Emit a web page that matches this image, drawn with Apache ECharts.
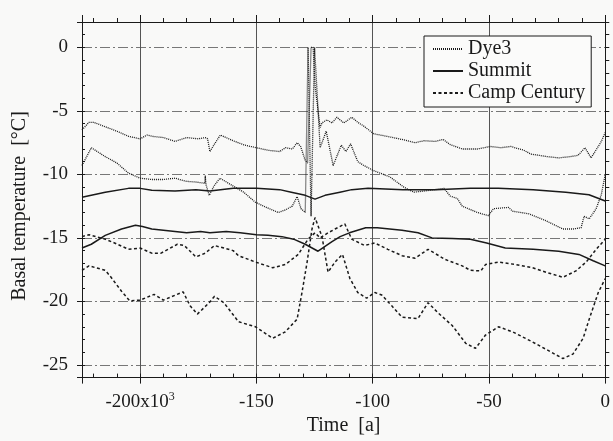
<!DOCTYPE html>
<html>
<head>
<meta charset="utf-8">
<script src="https://cdn.jsdelivr.net/npm/echarts@6/dist/echarts.min.js"></script>
<style>
  html, body { margin: 0; padding: 0; background: #f9f9f8; }
  #main { width: 613px; height: 441px; }
</style>
</head>
<body>
<div id="main"></div>
<script>
// time in 10^3 years, basal temperature in °C
var dye3Upper = [[-225,-6.5],[-222,-5.9],[-220,-5.9],[-215,-6.25],[-210,-6.6],[-205,-7.0],[-200,-7.2],[-197,-6.9],[-195,-7.0],[-190,-7.1],[-185,-7.4],[-180,-7.1],[-175,-7.2],[-172,-7.1],[-171,-7.2],[-170,-8.2],[-168,-7.6],[-165.5,-6.9],[-160,-7.35],[-155,-7.7],[-150,-7.9],[-145,-8.1],[-140,-8.2],[-137.5,-7.9],[-134.5,-8.0],[-132.5,-7.5],[-131,-7.8],[-129,-8.9],[-128,-9.1],[-126.5,0],[-125.6,0],[-124.8,-3],[-122.6,-6.3],[-121.8,-5.95],[-119.7,-5.7],[-117.5,-5.95],[-115.4,-5.5],[-112.4,-5.95],[-109,-5.5],[-106.4,-5.9],[-103.8,-6.2],[-99.6,-6.8],[-93.9,-7.0],[-87.4,-7.25],[-81.8,-7.5],[-77.9,-7.35],[-73.2,-7.4],[-69.7,-7.25],[-66.7,-7.65],[-61.5,-8.0],[-55,-8.0],[-49.4,-7.8],[-45,-7.9],[-40.7,-7.8],[-35,-8.1],[-32,-8.4],[-25,-8.6],[-20,-8.7],[-15,-8.6],[-11.7,-8.5],[-8.7,-7.9],[-6.1,-8.7],[-3,-7.8],[-1.7,-7.4],[0,-6.7]];
var dye3Lower = [[-225,-9.3],[-221,-7.9],[-215,-8.6],[-210,-9.1],[-205,-9.9],[-200,-10.3],[-195,-10.4],[-190,-10.4],[-185,-10.3],[-180,-10.55],[-176,-10.6],[-172.2,-10.7],[-172,-10.1],[-171.7,-10.8],[-170.3,-11.65],[-168.2,-10.9],[-165.7,-10.3],[-160.6,-10.85],[-155.5,-11.4],[-150.4,-12.2],[-145.7,-12.6],[-140.6,-13.0],[-137.6,-12.8],[-134.6,-12.5],[-132.5,-11.75],[-130.8,-12.7],[-129,-13.0],[-128.4,-13.1],[-127.8,0],[-127.2,0],[-126.5,-13.3],[-126.0,-13.3],[-125,0],[-124.6,0],[-122.6,-7.9],[-120,-6.6],[-117,-9.3],[-113.5,-7.7],[-111.5,-8.2],[-109.5,-7.6],[-106.4,-9.0],[-103.8,-9.3],[-99.6,-9.7],[-92.6,-10.2],[-86.6,-11.0],[-82.3,-11.4],[-75.3,-11.25],[-69.3,-11.1],[-66.7,-11.7],[-63.6,-11.9],[-61.5,-12.5],[-55,-13.0],[-50.2,-13.25],[-48.1,-12.7],[-41.6,-12.6],[-39.8,-12.9],[-32.9,-13.1],[-25.5,-13.65],[-18.2,-14.3],[-13.9,-14.3],[-10.4,-14.2],[-9.1,-13.3],[-6.9,-13.5],[-3.9,-12.7],[-1.7,-11.6],[0,-10.0]];
var summitUpper = [[-225,-11.8],[-215,-11.4],[-205,-11.1],[-200,-11.1],[-195,-11.25],[-185,-11.3],[-176,-11.2],[-170,-11.3],[-160,-11.1],[-150,-11.1],[-140,-11.2],[-135,-11.4],[-129,-11.65],[-124.8,-11.95],[-120.5,-11.65],[-114.1,-11.4],[-109,-11.2],[-102,-11.1],[-87,-11.2],[-73,-11.2],[-58,-11.1],[-46,-11.1],[-31,-11.2],[-17,-11.4],[-7,-11.6],[0,-12.1]];
var summitLower = [[-225,-15.8],[-221,-15.5],[-215,-14.8],[-208,-14.3],[-202,-14.0],[-199,-14.1],[-195,-14.3],[-185,-14.5],[-180,-14.6],[-174,-14.5],[-170,-14.6],[-163,-14.5],[-157,-14.6],[-150,-14.75],[-145,-14.8],[-139,-14.9],[-134,-15.1],[-129,-15.5],[-123.5,-16.05],[-117.5,-15.3],[-114,-14.9],[-110,-14.6],[-103,-14.2],[-98,-14.2],[-87.4,-14.4],[-80.5,-14.6],[-74.5,-15.0],[-65.8,-15.05],[-58,-15.1],[-51,-15.4],[-43,-15.8],[-31,-15.9],[-20,-16.05],[-11.3,-16.3],[-5.2,-16.8],[0,-17.2]];
var campUpper = [[-225,-14.9],[-222,-14.75],[-215,-15.1],[-211,-15.4],[-205,-15.9],[-200,-15.8],[-195,-16.2],[-191,-16.2],[-184,-15.5],[-181,-15.6],[-176,-16.5],[-172,-16.2],[-168,-15.6],[-164,-15.8],[-160,-16.0],[-157.7,-16.4],[-150.4,-16.9],[-143,-17.35],[-137.6,-17.1],[-132,-16.3],[-127.8,-15.1],[-124.8,-14.6],[-122.6,-15.0],[-119.2,-14.6],[-116.2,-14.3],[-112,-13.9],[-109,-15.1],[-103.5,-15.6],[-99.1,-15.4],[-93.5,-15.9],[-87.4,-16.4],[-81.8,-16.6],[-76.2,-15.9],[-68.8,-16.7],[-61.5,-17.2],[-58,-17.55],[-53.5,-17.6],[-51.5,-17.1],[-45.9,-16.9],[-38.5,-17.1],[-31.2,-17.35],[-25.5,-17.7],[-18.2,-18.1],[-12.6,-17.6],[-8.2,-16.9],[-3.9,-15.9],[0,-15.1]];
var campLower = [[-225,-17.55],[-222,-17.2],[-215,-17.55],[-212.5,-18.1],[-208,-19.2],[-204.5,-19.95],[-200,-19.9],[-194,-19.45],[-190,-19.9],[-181.5,-19.25],[-178.5,-20.35],[-175.4,-21.0],[-170.3,-20.1],[-168,-19.6],[-164,-20.1],[-157.7,-21.6],[-150.4,-22.0],[-143,-22.9],[-137.6,-22.4],[-132.5,-21.4],[-130.4,-19.3],[-128.2,-16.9],[-126.1,-14.3],[-124.8,-13.4],[-121.8,-14.9],[-119.2,-17.7],[-116.2,-16.9],[-113,-16.3],[-109.8,-18.2],[-106.4,-19.3],[-102.6,-19.75],[-99.1,-19.3],[-96.1,-19.5],[-91.8,-20.35],[-87.4,-21.25],[-80.5,-21.35],[-76.2,-20.1],[-71.9,-20.9],[-65.8,-21.9],[-60,-23.3],[-55.8,-23.7],[-51.5,-22.65],[-45.9,-22.0],[-39.8,-22.4],[-31.2,-23.2],[-24.2,-23.9],[-18.2,-24.5],[-13.9,-24.15],[-9.5,-22.9],[-6.9,-21.4],[-3,-19.3],[0,-18.2]];

var legendNames = ['Dye3', 'Summit', 'Camp Century'];

var font = '"Liberation Serif", "DejaVu Serif", serif';
var ink = '#1a1a1a';

var chart = echarts.init(document.getElementById('main'));

// axis helper, same range for every copy of the axis
function xAx(pos, step, tickLen, inside, extra) {
    return Object.assign({
        type: 'value', position: pos, min: -225, max: 0,
        minInterval: step, maxInterval: step, splitNumber: Math.round(225 / step),
        axisLine: { show: true, onZero: false, lineStyle: { color: ink, width: 1 } },
        axisTick: { show: true, inside: inside, length: tickLen, lineStyle: { color: ink } },
        axisLabel: { show: false },
        splitLine: { show: false }
    }, extra || {});
}
function yAx(pos, step, tickLen, inside, extra) {
    return Object.assign({
        type: 'value', position: pos, min: -26, max: 2,
        minInterval: step, maxInterval: step, splitNumber: Math.round(28 / step),
        axisLine: { show: true, onZero: false, lineStyle: { color: ink, width: 1 } },
        axisTick: { show: true, inside: inside, length: tickLen, lineStyle: { color: ink } },
        axisLabel: { show: false },
        splitLine: { show: false }
    }, extra || {});
}

function mkLine(name, data, type, width) {
    return {
        name: name, type: 'line', data: data, symbol: 'none',
        xAxisIndex: 0, yAxisIndex: 0, animation: false,
        lineStyle: { color: ink, width: width, type: type },
        itemStyle: { color: ink }
    };
}

var option = {
    backgroundColor: '#f9f9f8',
    animation: false,
    textStyle: { fontFamily: font },
    grid: { left: 82, right: 6, top: 22, bottom: 56, containLabel: false },
    legend: {
        data: legendNames,
        orient: 'vertical',
        left: 424, top: 36,
        padding: [3, 6, 4, 8],
        itemGap: 2,
        itemWidth: 30, itemHeight: 12,
        borderColor: ink, borderWidth: 1,
        backgroundColor: '#fbfbfa',
        itemStyle: { opacity: 0 },
        textStyle: { fontFamily: font, fontSize: 20, color: ink }
    },
    xAxis: [
        xAx('bottom', 10, 4, true, {
            name: 'Time  [a]', nameLocation: 'middle', nameGap: 37,
            nameTextStyle: { fontFamily: font, fontSize: 20, color: ink },
            axisLabel: {
                show: true, margin: 13, fontFamily: font, fontSize: 19, color: ink,
                formatter: function (v) {
                    if (v % 50 !== 0) return '';
                    if (v === -200) return '{a|-200x10}{s|3}';
                    return '{a|' + v + '}';
                },
                rich: {
                    a: { fontFamily: font, fontSize: 19, color: ink, lineHeight: 22 },
                    s: { fontFamily: font, fontSize: 12, color: ink, lineHeight: 10, verticalAlign: 'top' }
                }
            }
        }),
        xAx('bottom', 50, 6, false, {
            splitLine: { show: true, lineStyle: { color: '#555', width: 1 } }
        }),
        xAx('top', 10, 4, false),
        xAx('top', 50, 7, false)
    ],
    yAxis: [
        yAx('left', 1, 3, true, {
            axisLabel: {
                show: true, margin: 14, fontFamily: font, fontSize: 19, color: ink,
                formatter: function (v) { return v % 5 === 0 ? String(v) : ''; }
            }
        }),
        yAx('left', 5, 5, false, {
            splitLine: { show: true, lineStyle: { color: '#777', width: 1, type: [10, 3, 2, 3] } }
        }),
        yAx('right', 1, 4, false)
    ],
    graphic: [{
        type: 'text', x: 20, y: 206, rotation: Math.PI / 2,
        style: {
            text: 'Basal temperature  [°C]', font: '20px ' + font, fill: ink,
            textAlign: 'center', textVerticalAlign: 'middle'
        }
    }],
    series: [
        mkLine('Dye3', dye3Upper, [1, 1], 1.3),
        mkLine('Dye3', dye3Lower, [1, 1], 1.3),
        mkLine('Summit', summitUpper, 'solid', 1.5),
        mkLine('Summit', summitLower, 'solid', 1.5),
        mkLine('Camp Century', campUpper, [3, 2.5], 1.5),
        mkLine('Camp Century', campLower, [3, 2.5], 1.5)
    ]
};

chart.setOption(option);
</script>
</body>
</html>
